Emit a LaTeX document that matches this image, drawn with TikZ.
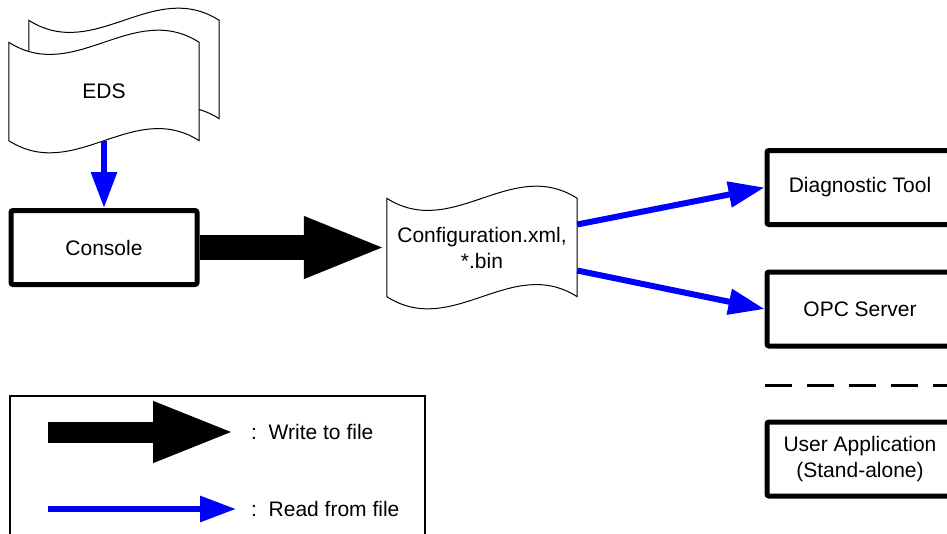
\documentclass[tikz,border=0pt]{standalone}
\usepackage{fontspec}
\setmainfont{Liberation Sans}
\usepackage{tikz}
\usetikzlibrary{calc,arrows.meta,backgrounds}

\tikzset{
  box/.style={draw,line width=5pt,rounded corners=2pt,minimum width=186pt,minimum height=74pt,align=center},
  doc/.style={minimum width=190pt,minimum height=98pt,inner sep=0pt,align=center},
  docline/.style={draw,fill=white,line width=1pt},
  readarrow/.style={blue,line width=6pt,-{Triangle[length=36pt,width=25pt]}},
  writearrow/.style={line width=25pt,-{Triangle[length=83pt,width=56pt]}},
  legtext/.style={anchor=west,inner sep=0pt}
}
\newcommand{\docsheet}[2]{%
  \path[docline] ($(#1.north west)+#2$) .. controls +(66,42) and +(-66,-42) .. ($(#1.north east)+#2$)
    -- ($(#1.south east)+#2$) .. controls +(-66,-42) and +(66,42) .. ($(#1.south west)+#2$) -- cycle;}

\begin{document}
\begin{tikzpicture}[x=1pt,y=-1pt,every node/.style={font=\fontsize{21}{26}\selectfont}]
  \useasboundingbox (0,0) rectangle (947,533);
  \clip (0,0) rectangle (947,533);
  % files and programs
  \node[doc] (eds) at (104,91.5) {EDS};
  \node[box] (console) at (104,247.5) {Console};
  \node[doc] (cfg) at (482,247.5) {Configuration.xml,\\*.bin};
  \node[box] (diag) at (860,187.5) {Diagnostic Tool};
  \node[box] (opc) at (860,309) {OPC Server};
  \node[box] (user) at (860,459) {User Application\\(Stand-alone)};
  \begin{scope}[on background layer]
    \docsheet{eds}{(20,-22)}
    \docsheet{eds}{(0,0)}
    \docsheet{cfg}{(0,0)}
  \end{scope}
  \draw[readarrow] (eds.south) -- (console.north);
  \draw[writearrow] (console.east) -- (cfg.west);
  \draw[readarrow] ($(cfg.east)+(0,-23)$) -- (diag.west);
  \draw[readarrow] ($(cfg.east)+(0,23)$) -- (opc.west);
  \draw[line width=3pt,dash pattern=on 27pt off 15pt] (765,385) -- (947,385);
  % legend
  \draw[line width=2pt] (10,396) rectangle (425,545);
  \coordinate (w1) at (48,432);
  \coordinate (w2) at (236,432);
  \coordinate (r1) at (48,509);
  \coordinate (r2) at (236,509);
  \draw[writearrow,line width=21pt,-{Triangle[length=83pt,width=55pt]}] (w1) -- (w2);
  \draw[readarrow] (r1) -- (r2);
  \node[legtext] (wlab) at (251,432) {:\ \ Write to file};
  \node[legtext] (rlab) at (251,509) {:\ \ Read from file};
\end{tikzpicture}
\end{document}
